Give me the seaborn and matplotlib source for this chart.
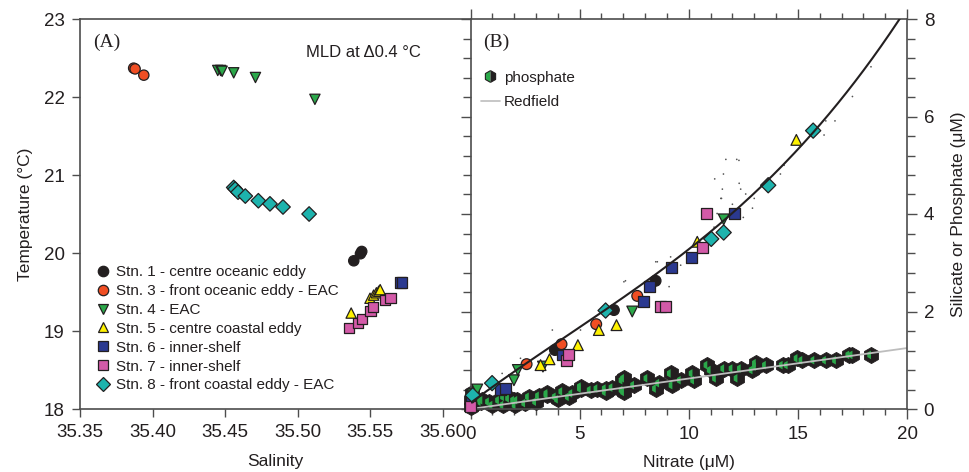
import numpy as np
import pandas as pd
import matplotlib
matplotlib.use("Agg")
import matplotlib.pyplot as plt
from matplotlib.lines import Line2D
from matplotlib.markers import MarkerStyle
from matplotlib.ticker import MultipleLocator
import seaborn as sns

sns.set_style("ticks")
plt.rcParams["font.family"] = ["Liberation Sans", "DejaVu Sans"]

# ---------------- station identities ----------------
stations = ["Stn. 1 - centre oceanic eddy",
            "Stn. 3 - front oceanic eddy - EAC",
            "Stn. 4 - EAC",
            "Stn. 5 - centre coastal eddy",
            "Stn. 6 - inner-shelf",
            "Stn. 7 - inner-shelf",
            "Stn. 8 - front coastal eddy - EAC"]
station_colors = ["#231f20", "#f04e23", "#2ba84a", "#fff200", "#2b3990", "#d35aa8", "#1db3ad"]
station_markers = ["o", "o", "v", "^", "s", "s", "D"]

# ---------------- (A) T-S in the mixed layer ----------------
sal_1 = [35.5388, 35.5434, 35.5443]
temp_1 = [19.90, 19.99, 20.02]
sal_3 = [35.387, 35.388, 35.394]
temp_3 = [22.37, 22.36, 22.28]
sal_4 = [35.445, 35.447, 35.448, 35.456, 35.471, 35.512]
temp_4 = [22.34, 22.34, 22.33, 22.31, 22.25, 21.97]
sal_5 = [35.537, 35.550, 35.5525, 35.5544, 35.556, 35.557]
temp_5 = [19.23, 19.42, 19.46, 19.49, 19.51, 19.53]
sal_6 = [35.571, 35.572]
temp_6 = [19.62, 19.62]
sal_7 = [35.5353, 35.5415, 35.5445, 35.5503, 35.5521, 35.5602, 35.5641]
temp_7 = [19.04, 19.10, 19.15, 19.26, 19.31, 19.40, 19.42]
sal_8 = [35.456, 35.457, 35.459, 35.464, 35.473, 35.481, 35.490, 35.508]
temp_8 = [20.84, 20.82, 20.78, 20.73, 20.67, 20.63, 20.59, 20.50]

# ---------------- (B) nutrients ----------------
no3_1 = [0.05, 3.87, 6.57, 8.48]
si_1 = [0.10, 1.21, 2.03, 2.63]
no3_3 = [2.57, 4.17, 5.76, 7.64]
si_3 = [0.92, 1.33, 1.74, 2.32]
no3_4 = [0.10, 0.31, 1.99, 2.17, 3.32, 7.41, 11.6]
si_4 = [0.30, 0.40, 0.59, 0.80, 0.87, 2.00, 3.89]
no3_5 = [3.21, 3.62, 4.92, 5.88, 6.69, 10.39, 14.93]
si_5 = [0.90, 1.02, 1.31, 1.62, 1.72, 3.43, 5.52]
no3_6 = [0.02, 1.37, 1.60, 4.20, 7.91, 8.20, 9.21, 10.11, 12.1]
si_6 = [0.18, 0.40, 0.42, 1.11, 2.20, 2.51, 2.91, 3.10, 4.01]
no3_7 = [0.00, 4.40, 4.50, 8.71, 8.94, 10.62, 10.8]
si_7 = [0.05, 1.00, 1.12, 2.11, 2.11, 3.31, 4.01]
no3_8 = [0.10, 0.99, 6.19, 11.03, 11.6, 13.64, 15.7]
si_8 = [0.28, 0.53, 2.02, 3.49, 3.62, 4.59, 5.71]

# all phosphate samples
no3_p = [0.0, 0.0, 0.05, 0.2, 0.46, 0.54, 0.84, 1.0, 1.3, 1.5, 1.53, 1.76, 1.99, 2.06,
         2.14, 2.5, 2.67, 3.0, 3.13, 3.52, 3.52, 3.9, 4.0, 4.2, 4.5, 4.66, 5.05, 5.05,
         5.5, 5.81, 6.19, 6.19, 6.5, 6.96, 6.96, 7.03, 7.03, 7.49, 8.1, 8.49, 8.64,
         9.17, 9.25, 9.63, 10.17, 10.24, 10.85, 11.0, 11.24, 11.62, 12.0, 12.23, 12.38,
         12.92, 13.07, 13.07, 13.53, 14.3, 14.53, 14.98, 15.2, 15.75, 16.28, 16.74,
         17.35, 17.5, 18.35]
po4 = [0.05, 0.18, 0.32, 0.10, 0.15, 0.18, 0.15, 0.08, 0.18, 0.08, 0.25, 0.22, 0.18, 0.08,
       0.18, 0.12, 0.25, 0.15, 0.27, 0.29, 0.32, 0.25, 0.20, 0.36, 0.25, 0.32, 0.42, 0.46,
       0.39, 0.42, 0.35, 0.42, 0.44, 0.59, 0.39, 0.35, 0.63, 0.49, 0.63, 0.42, 0.53,
       0.73, 0.49, 0.59, 0.73, 0.59, 0.90, 0.80, 0.63, 0.83, 0.83, 0.63, 0.83,
       0.80, 0.94, 0.87, 0.90, 0.90, 0.90, 1.04, 1.00, 1.00, 1.00, 1.00,
       1.11, 1.11, 1.11]

# silicate in the remaining casts (fine dots)
no3_dots = [1.45, 2.29, 3.75, 5.04, 7.03, 7.1, 8.49, 8.56, 9.1, 9.17, 9.63, 11.16, 11.19,
            11.3, 11.47, 11.5, 11.54, 11.59, 11.7, 12.0, 12.2, 12.3, 12.31, 12.38, 12.5,
            12.61, 12.92, 13.0, 14.2, 14.37, 16.2, 16.28, 16.7, 17.5, 18.35]
si_dots = [0.73, 1.04, 1.62, 1.62, 2.61, 2.63, 3.02, 3.02, 2.51, 3.12, 2.95, 3.73, 4.72,
           4.01, 4.32, 4.32, 4.51, 4.82, 5.12, 4.20, 5.12, 5.10, 4.63, 4.51, 3.93,
           4.41, 4.12, 4.32, 4.82, 5.00, 5.62, 5.91, 5.91, 6.41, 7.02]

# silicate trend and Redfield N:P = 16:1
trend_no3 = [0.38, 2.83, 6.19, 10.54, 13.6, 15.58, 16.88, 19.7]
trend_si = [0.25, 1.00, 2.10, 3.42, 4.63, 5.66, 6.34, 8.00]
redfield_no3 = [0, 20]
redfield_po4 = [0, 1.25]

# ---------------- tables ----------------
ts_sal = [sal_1, sal_3, sal_4, sal_5, sal_6, sal_7, sal_8]
ts_temp = [temp_1, temp_3, temp_4, temp_5, temp_6, temp_7, temp_8]
nut_no3 = [no3_1, no3_3, no3_4, no3_5, no3_6, no3_7, no3_8]
nut_si = [si_1, si_3, si_4, si_5, si_6, si_7, si_8]

ts = pd.concat([pd.DataFrame({"station": st, "salinity": s, "temperature": t})
                for st, s, t in zip(stations, ts_sal, ts_temp)], ignore_index=True)
nut = pd.concat([pd.DataFrame({"station": st, "nitrate": n, "silicate": s})
                 for st, n, s in zip(stations, nut_no3, nut_si)], ignore_index=True)
phos = pd.DataFrame({"nitrate": no3_p, "phosphate": po4})
dots = pd.DataFrame({"nitrate": no3_dots, "silicate": si_dots})

coef = np.polyfit(trend_no3, trend_si, 3)
fit_x = np.linspace(0, max(trend_no3), 200)
trend = pd.DataFrame({"nitrate": fit_x, "silicate": np.polyval(coef, fit_x)})
redfield = pd.DataFrame({"nitrate": redfield_no3, "phosphate": redfield_po4})

palette = dict(zip(stations, station_colors))
markers = dict(zip(stations, station_markers))

TXT = "#231f20"
SPINE = "#4d4d4d"
GREEN = "#2ba84a"

fig = plt.figure(figsize=(9.69, 4.72), dpi=100)
W, H = 969, 472
axA = fig.add_axes([80 / W, 63 / H, 390.5 / W, 390 / H])
axB = fig.add_axes([470.5 / W, 63 / H, 436.5 / W, 390 / H])

# ---------------- panel A ----------------
sns.scatterplot(data=ts, x="salinity", y="temperature", hue="station", style="station",
                palette=palette, markers=markers, s=55, edgecolor="#231f20",
                linewidth=0.9, legend=False, ax=axA, zorder=3)
axA.set_xlim(35.35, 35.6193)
axA.set_ylim(18, 23)
axA.set_xticks([35.35, 35.40, 35.45, 35.50, 35.55, 35.60])
axA.set_xticklabels(["35.35", "35.40", "35.45", "35.50", "35.55", "35.60"])
axA.set_yticks([18, 19, 20, 21, 22, 23])
axA.tick_params(axis="both", which="major", direction="out", length=6, width=1,
                color=SPINE, labelsize=13.5, labelcolor=TXT, pad=5)
axA.spines["right"].set_visible(False)
for sp in ["left", "top", "bottom"]:
    axA.spines[sp].set_color(SPINE)
    axA.spines[sp].set_linewidth(1.2)
axA.set_xlabel("Salinity", fontsize=12.5, color=TXT, labelpad=9)
axA.set_ylabel("Temperature (°C)", fontsize=12.5, color=TXT, labelpad=8)
axA.text(0.033, 0.94, "(A)", transform=axA.transAxes, fontsize=14,
         family=["Liberation Serif", "DejaVu Serif"], color=TXT, va="center")
axA.text(0.578, 0.915, "MLD at Δ0.4 °C", transform=axA.transAxes, fontsize=12,
         color=TXT, va="center")

handlesA = [Line2D([], [], linestyle="none", marker=m, markersize=7.5,
                   markerfacecolor=c, markeredgecolor="#231f20", markeredgewidth=0.9)
            for m, c in zip(station_markers, station_colors)]
legA = axA.legend(handlesA, stations, loc="lower left", bbox_to_anchor=(0.015, 0.015),
                  frameon=False, fontsize=11, handlelength=0.8, handletextpad=0.5,
                  labelspacing=0.32, borderpad=0.2)
for t in legA.get_texts():
    t.set_color(TXT)

# ---------------- panel B ----------------
sns.scatterplot(data=phos, x="nitrate", y="phosphate", marker="h", s=135,
                color="#231f20", edgecolor="#231f20", linewidth=0.6, ax=axB,
                zorder=2, clip_on=False)
sns.scatterplot(data=phos, x="nitrate", y="phosphate",
                marker=MarkerStyle("h", fillstyle="left"), s=38, color=GREEN,
                edgecolor="none", linewidth=0, ax=axB, zorder=2.1, clip_on=False)
sns.lineplot(data=redfield, x="nitrate", y="phosphate", color="#bdbdbd", linewidth=1.3,
             ax=axB, zorder=2.5)
sns.scatterplot(data=dots, x="nitrate", y="silicate", color="#555555", s=1.5,
                edgecolor="none", ax=axB, zorder=2.6)
sns.scatterplot(data=nut, x="nitrate", y="silicate", hue="station", style="station",
                palette=palette, markers=markers, s=60, edgecolor="#231f20",
                linewidth=0.9, legend=False, ax=axB, zorder=3, clip_on=False)
sns.lineplot(data=trend, x="nitrate", y="silicate", color="#231f20", linewidth=1.5,
             ax=axB, zorder=4)

axB.set_xlim(0, 20)
axB.set_ylim(0, 8)
axB.xaxis.set_major_locator(MultipleLocator(5))
axB.xaxis.set_minor_locator(MultipleLocator(1))
axB.yaxis.set_major_locator(MultipleLocator(2))
axB.yaxis.set_minor_locator(MultipleLocator(0.4))
axB.tick_params(axis="x", which="both", direction="out", bottom=True, top=True,
                labelbottom=True, labeltop=False, color=SPINE, width=1)
axB.tick_params(axis="y", which="both", direction="out", left=True, right=True,
                labelleft=False, labelright=True, color=SPINE, width=1)
axB.tick_params(which="major", length=7, labelsize=13.5, labelcolor=TXT, pad=5)
axB.tick_params(which="minor", length=4)
axB.tick_params(axis="y", which="minor", left=True, length=6)
for sp in ["left", "right", "top", "bottom"]:
    axB.spines[sp].set_color(SPINE)
    axB.spines[sp].set_linewidth(1.2)
axB.set_xlabel("Nitrate (μM)", fontsize=12.5, color=TXT, labelpad=9)
axB.yaxis.set_label_position("right")
axB.set_ylabel("Silicate or Phosphate (μM)", fontsize=12.5, color=TXT, labelpad=12)
axB.text(0.03, 0.94, "(B)", transform=axB.transAxes, fontsize=14,
         family=["Liberation Serif", "DejaVu Serif"], color=TXT, va="center")

phos_handle = Line2D([], [], linestyle="none", marker="h", markersize=8.5,
                     fillstyle="left", markerfacecolor=GREEN,
                     markerfacecoloralt="#231f20", markeredgecolor="#231f20",
                     markeredgewidth=0.8)
red_handle = Line2D([], [], color="#bdbdbd", linewidth=1.2)
legB = axB.legend([phos_handle, red_handle], ["phosphate", "Redfield"], loc="upper left",
                  bbox_to_anchor=(0.0, 0.895), frameon=False, fontsize=11,
                  handlelength=1.2, handletextpad=0.3, labelspacing=0.7, borderpad=0.2)
for t in legB.get_texts():
    t.set_color(TXT)

fig.savefig("out.png", dpi=100)
